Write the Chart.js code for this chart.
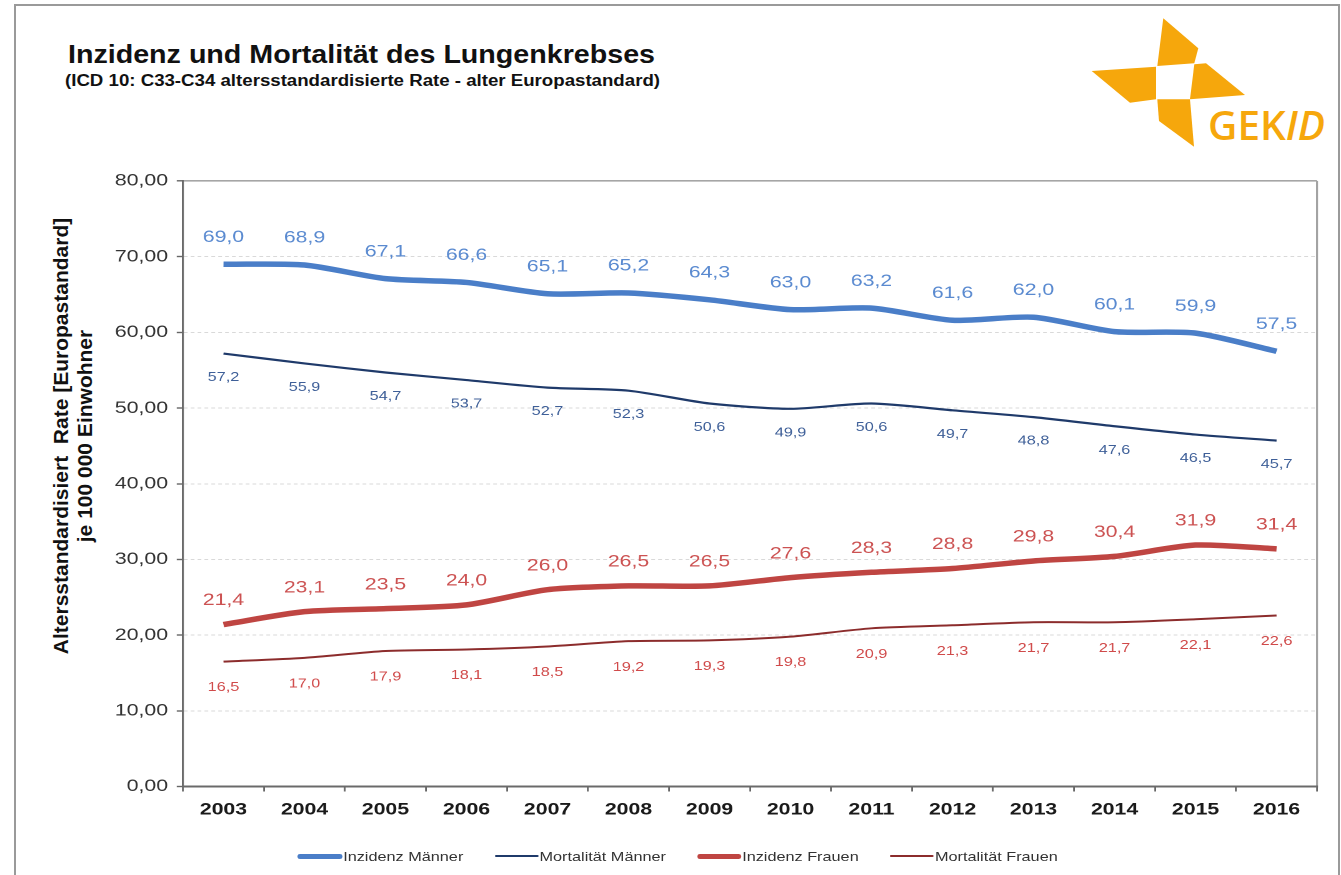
<!DOCTYPE html>
<html>
<head>
<meta charset="utf-8">
<script src="https://cdn.jsdelivr.net/npm/chart.js@4.4.1/dist/chart.umd.min.js"></script>
<style>
html,body{margin:0;padding:0;background:#fff;width:1341px;height:875px;overflow:hidden;font-family:"Liberation Sans",Arial,sans-serif}
#frame{position:absolute;left:14px;top:4px;width:1326px;height:900px;border:2px solid #9a9a9a;border-bottom:none;box-sizing:border-box}
#wrap{position:absolute;left:0;top:0;width:1073px;height:875px;transform:scaleX(1.2498);transform-origin:0 0}
#chartBox{position:absolute;left:0;top:0;width:1073px;height:875px}
.fit{position:absolute;white-space:nowrap;display:inline-block;transform-origin:0 0;color:#111;font-weight:bold}
#title{left:68px;top:41.8px;font-size:25px;line-height:25px}
#subtitle{left:65px;top:72.5px;font-size:16px;line-height:16px}
#ytitle{position:absolute;left:-157px;top:412px;width:460px;height:48px;line-height:24px;font-size:21px;font-weight:bold;color:#111;text-align:center;transform:rotate(-90deg);transform-origin:50% 50%;white-space:nowrap}
#legend{position:absolute;left:238.4px;top:846px;height:20px;display:flex;align-items:center;gap:24.8px;font-size:13px;color:#333}
#legend .item{display:flex;align-items:center}
#legend .swatch{width:35.2px;margin-right:1px;border-radius:2px}
#logo{position:absolute;left:0;top:0}
</style>
</head>
<body>
<div id="frame"></div>
<div id="title" class="fit">Inzidenz und Mortalität des Lungenkrebses</div>
<div id="subtitle" class="fit">(ICD 10: C33-C34 altersstandardisierte Rate - alter Europastandard)</div>
<svg id="logo" width="1341" height="160" viewBox="0 0 1341 160">
  <g fill="#f6a70c">
    <polygon points="1163.3,18.3 1198.3,48.3 1194.3,63.3 1157.3,66"/>
    <polygon points="1194.3,64.3 1206,63.3 1245,95 1190,99.3"/>
    <polygon points="1091.7,71 1156,66.7 1156,99.3 1130,102.7"/>
    <polygon points="1157.3,99.3 1190,99.3 1194,146.7 1159,121"/>
    <text x="1208" y="140" font-family="'Open Sans','Liberation Sans',sans-serif" font-weight="600" font-size="39" textLength="117" lengthAdjust="spacingAndGlyphs">GEK<tspan font-style="italic">ID</tspan></text>
  </g>
</svg>
<div id="ytitle">Altersstandardisiert&nbsp; Rate [Europastandard]<br>je 100 000 Einwohner</div>
<div id="wrap">
  <div id="chartBox"><canvas id="c"></canvas></div>
  <div id="legend"></div>
</div>
<script>
// ---- data ----
const YEARS = ['2003','2004','2005','2006','2007','2008','2009','2010','2011','2012','2013','2014','2015','2016'];
const INZIDENZ_MAENNER  = [69.0,68.9,67.1,66.6,65.1,65.2,64.3,63.0,63.2,61.6,62.0,60.1,59.9,57.5];
const MORTALITAET_MAENNER = [57.2,55.9,54.7,53.7,52.7,52.3,50.6,49.9,50.6,49.7,48.8,47.6,46.5,45.7];
const INZIDENZ_FRAUEN  = [21.4,23.1,23.5,24.0,26.0,26.5,26.5,27.6,28.3,28.8,29.8,30.4,31.9,31.4];
const MORTALITAET_FRAUEN = [16.5,17.0,17.9,18.1,18.5,19.2,19.3,19.8,20.9,21.3,21.7,21.7,22.1,22.6];
const Y_TICKS = [0,10,20,30,40,50,60,70,80];
const SERIES_NAMES = ['Inzidenz Männer','Mortalität Männer','Inzidenz Frauen','Mortalität Frauen'];

const FONT = "'Liberation Sans', Arial, sans-serif";
Chart.defaults.font.family = FONT;

const comma = (v, d) => v.toFixed(d).replace('.', ',');

const datasets = [
  {label: SERIES_NAMES[0], data: INZIDENZ_MAENNER, borderColor:'#4a7ec8', borderWidth:5.5,
   vl:{size:17, color:'#5a8ad0', dy:-27}, legendW:5},
  {label: SERIES_NAMES[1], data: MORTALITAET_MAENNER, borderColor:'#1f3a6a', borderWidth:2.2,
   vl:{size:13, color:'#3e5f98', dy:24}, legendW:2.5},
  {label: SERIES_NAMES[2], data: INZIDENZ_FRAUEN, borderColor:'#bf4542', borderWidth:5.5,
   vl:{size:17, color:'#cc5252', dy:-24}, legendW:5},
  {label: SERIES_NAMES[3], data: MORTALITAET_FRAUEN, borderColor:'#8c2c2c', borderWidth:2,
   vl:{size:13, color:'#d04a4a', dy:26}, legendW:2}
].map(d => Object.assign({pointRadius:0, pointHoverRadius:0, tension:0.25, fill:false,
  borderCapStyle:'butt', borderJoinStyle:'round'}, d));

const valueLabels = {
  id:'valueLabels',
  afterDatasetsDraw(chart){
    const ctx = chart.ctx;
    chart.data.datasets.forEach((ds, i) => {
      const meta = chart.getDatasetMeta(i);
      ctx.save();
      ctx.font = ds.vl.size + 'px ' + FONT;
      ctx.fillStyle = ds.vl.color;
      ctx.textAlign = 'center';
      ctx.textBaseline = 'middle';
      meta.data.forEach((pt, j) => {
        ctx.fillText(comma(ds.data[j], 1), pt.x, pt.y + ds.vl.dy);
      });
      ctx.restore();
    });
  }
};

const isTop = c => c.tick && c.tick.value === 80;
const isZero = c => c.tick && c.tick.value === 0;

new Chart(document.getElementById('c'), {
  type:'line',
  data:{labels: YEARS, datasets},
  plugins:[valueLabels],
  options:{
    responsive:true, maintainAspectRatio:false, animation:false, devicePixelRatio:2,
    layout:{padding:{left:0, right:19.2, top:181, bottom:48.5}},
    plugins:{legend:{display:false}, tooltip:{enabled:false}, title:{display:false}},
    scales:{
      x:{
        type:'category', offset:true,
        afterFit(s){ s.height = 40; },
        grid:{offset:true, drawOnChartArea:true, drawTicks:true, tickLength:5,
          color: c => c.type === 'scale' ? '#a3a3a3' : 'rgba(0,0,0,0)',
          lineWidth:1.6, tickColor:'#666', tickWidth:1.4},
        border:{display:true, color:'#6a6a6a', width:2},
        ticks:{font:{size:17, weight:'bold'}, color:'#1a1a1a', padding:8, maxRotation:0, autoSkip:false}
      },
      y:{
        min:0, max:80,
        afterFit(s){ s.width = 146.4; },
        afterBuildTicks(s){ s.ticks = Y_TICKS.map(v => ({value:v})); },
        grid:{drawTicks:true, tickLength:5, tickColor:'#666', tickWidth:1.4,
          color: c => isTop(c) ? '#a6a6a6' : (isZero(c) ? 'rgba(0,0,0,0)' : '#d9d9d9'),
          lineWidth: c => isTop(c) ? 1.6 : 1},
        border:{display:true, color:'#6a6a6a', width:1.6, dash: c => isTop(c) ? [] : [3,2.5]},
        ticks:{font:{size:17}, color:'#333', padding:7, callback: v => comma(v, 2)}
      }
    }
  }
});

// legend built from the datasets
const lg = document.getElementById('legend');
datasets.forEach(d => {
  const it = document.createElement('div'); it.className = 'item';
  const sw = document.createElement('div'); sw.className = 'swatch';
  sw.style.height = d.legendW + 'px'; sw.style.background = d.borderColor;
  const tx = document.createElement('span'); tx.textContent = d.label;
  it.appendChild(sw); it.appendChild(tx); lg.appendChild(it);
});

// fit title widths
function fit(id, w){
  const el = document.getElementById(id);
  el.style.transform = 'none';
  const nat = el.getBoundingClientRect().width;
  el.style.transform = 'scaleX(' + (w / nat) + ')';
}
fit('title', 587); fit('subtitle', 595);
if (document.fonts && document.fonts.ready) document.fonts.ready.then(() => { fit('title', 587); fit('subtitle', 595); });
</script>
</body>
</html>
